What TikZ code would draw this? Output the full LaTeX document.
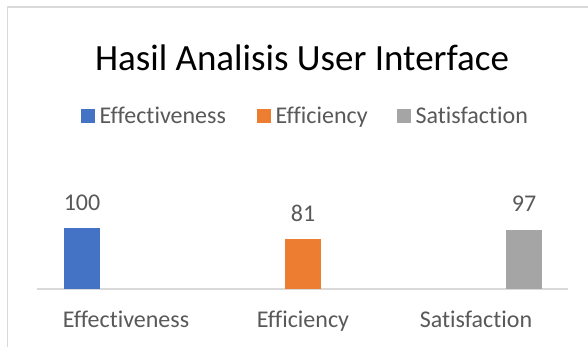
\documentclass[tikz,border=0pt]{standalone}
\usepackage{fontspec}
\setmainfont{Carlito}[Ligatures={NoCommon,NoContextual}]
\definecolor{effblue}{HTML}{4472C4}
\definecolor{efforange}{HTML}{ED7D31}
\definecolor{satgray}{HTML}{A5A5A5}
\definecolor{labelgray}{HTML}{595959}
\definecolor{framegray}{HTML}{D9D9D9}
\tikzset{
  bar/.style={fill=#1,draw=none,minimum width=36pt,inner sep=0pt},
  key/.style={fill=#1,draw=none,minimum size=14pt,inner sep=0pt,anchor=north west},
  txt/.style={text=labelgray,font=\fontsize{24}{28}\selectfont,inner sep=0pt}
}

\begin{document}
\begin{tikzpicture}[x=1pt,y=-1pt]
  \useasboundingbox[fill=white] (0,0) rectangle (588,347);
  \draw[framegray,line width=1.5pt] (7.5,347) -- (7.5,7) -- (588,7);
  % titel
  \node[font=\fontsize{37}{41}\selectfont,inner sep=0pt,anchor=base] (title) at (302,71) {Hasil Analisis User Interface};
  % legenda
  \foreach \n/\x/\c/\t in {eff/81/effblue/Effectiveness,effi/257/efforange/Efficiency,sat/397/satgray/Satisfaction} {
    \node[key=\c] (key\n) at (\x,109) {};
    \node[txt,anchor=base west] (leg\n) at ([xshift=4pt]key\n.south east) {\t};
  }
  % sumbu
  \coordinate (axl) at (37,289);
  \coordinate (axr) at (568,289);
  \draw[framegray,line width=1.5pt] (axl) -- (axr);
  \foreach \n/\x/\v/\c in {eff/82/100/effblue,effi/303/81/efforange,sat/524/97/satgray} {
    \node[bar=\c,minimum height=0.61pt*\v,anchor=south] (bar\n) at (\x,289) {};
    \node[txt,anchor=base] (val\n) at ([yshift=17.5pt]bar\n.north) {\v};
  }
  \foreach \n/\x/\t in {eff/126/Effectiveness,effi/303/Efficiency,sat/476/Satisfaction}
    \node[txt,anchor=base] (cat\n) at (\x,327) {\t};
\end{tikzpicture}
\end{document}
